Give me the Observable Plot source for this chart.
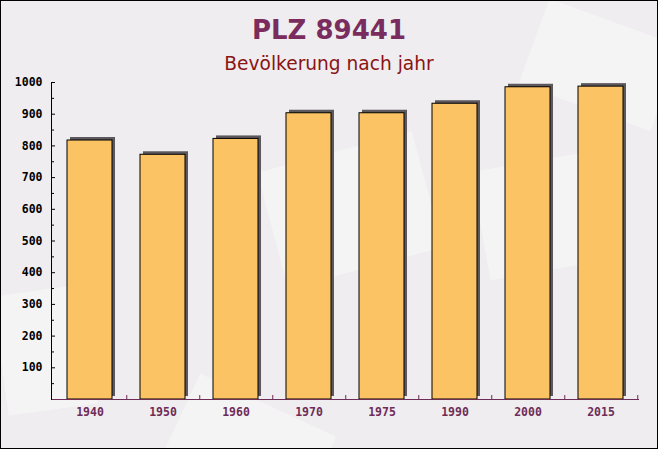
<!DOCTYPE html>
<html><head><meta charset="utf-8">
<script src="https://cdn.jsdelivr.net/npm/d3@7"></script>
<script src="https://cdn.jsdelivr.net/npm/@observablehq/plot@0.6"></script>
<style>
body{margin:0;background:#fff;}
#wrap{position:relative;width:658px;height:449px;background:#efedef;overflow:hidden;}
#frame{position:absolute;left:0;top:0;width:658px;height:449px;border:1px solid #000;box-sizing:border-box;pointer-events:none;}
.t{position:absolute;left:0;width:658px;text-align:center;font-family:"DejaVu Sans";line-height:1;white-space:nowrap;}
#title{top:17px;font-size:26px;font-weight:bold;color:#7a2c5e;}
#sub{top:55px;font-size:18.6px;color:#8b1414;}
.deco{position:absolute;background:rgba(255,255,255,0.4);}
#chart{position:absolute;left:0;top:0;}
</style></head><body>
<div id="wrap">
<div class="deco" style="left:270px;top:150px;width:160px;height:120px;transform:rotate(-15deg)"></div>
<div class="deco" style="left:480px;top:160px;width:130px;height:110px;transform:rotate(-10deg)"></div>
<div class="deco" style="left:170px;top:400px;width:150px;height:110px;transform:rotate(25deg)"></div>
<div class="deco" style="left:530px;top:20px;width:140px;height:90px;transform:rotate(20deg)"></div>
<div class="deco" style="left:0px;top:290px;width:90px;height:120px;transform:rotate(-8deg)"></div>
<div class="t" id="title">PLZ 89441</div>
<div class="t" id="sub">Bevölkerung nach jahr</div>
<div id="chart"></div>
<div id="frame"></div>
</div>
<script>
const years = ["1940","1950","1960","1970","1975","1990","2000","2015"];
const population = [817, 772, 822, 903, 903, 933, 985, 987];
const majorTicks = [100,200,300,400,500,600,700,800,900,1000];
const minorTicks = [50,150,250,350,450,550,650,750,850,950];

const data = years.map((y, i) => ({year: y, value: population[i]}));

const W = 658, H = 449, mL = 51, mR = 19, mT = 82, mB = 50;
const innerW = W - mL - mR, innerH = H - mT - mB;
const step = innerW / years.length;
const purple = "#6e2c57";

const chart = Plot.plot({
  width: W, height: H,
  marginLeft: mL, marginRight: mR, marginTop: mT, marginBottom: mB,
  style: {background: "transparent", overflow: "visible"},
  x: {domain: years, paddingInner: 0.39, paddingOuter: 0.195, axis: null},
  y: {domain: [0, 1000], axis: null},
  marks: [
    Plot.barY(data, {x: "year", y: "value", fill: "#5d585e", dx: 3, dy: -3}),
    Plot.barY(data, {x: "year", y: "value", fill: "#fbc363", stroke: "#000", strokeWidth: 1}),
    Plot.ruleY(majorTicks, {stroke: "#000", insetRight: innerW - 4}),
    Plot.ruleY(minorTicks, {stroke: "#000", insetRight: innerW - 3}),
    Plot.text(majorTicks, {y: d => d, text: d => String(d), frameAnchor: "left", dx: -9, textAnchor: "end",
      fontFamily: "DejaVu Sans Mono", fontWeight: "bold", fontSize: 11.5, fill: "#000"}),
    Plot.ruleX(years, {x: d => d, dx: step / 2, insetTop: innerH - 4, stroke: purple}),
    Plot.ruleY([0], {stroke: purple}),
    Plot.frame({anchor: "left", stroke: "#000"}),
    Plot.text(years, {x: d => d, text: d => d, frameAnchor: "bottom", dy: 13, lineAnchor: "middle",
      fontFamily: "DejaVu Sans Mono", fontWeight: "bold", fontSize: 11.5, fill: purple})
  ]
});
document.getElementById("chart").appendChild(chart);
</script>
</body></html>
